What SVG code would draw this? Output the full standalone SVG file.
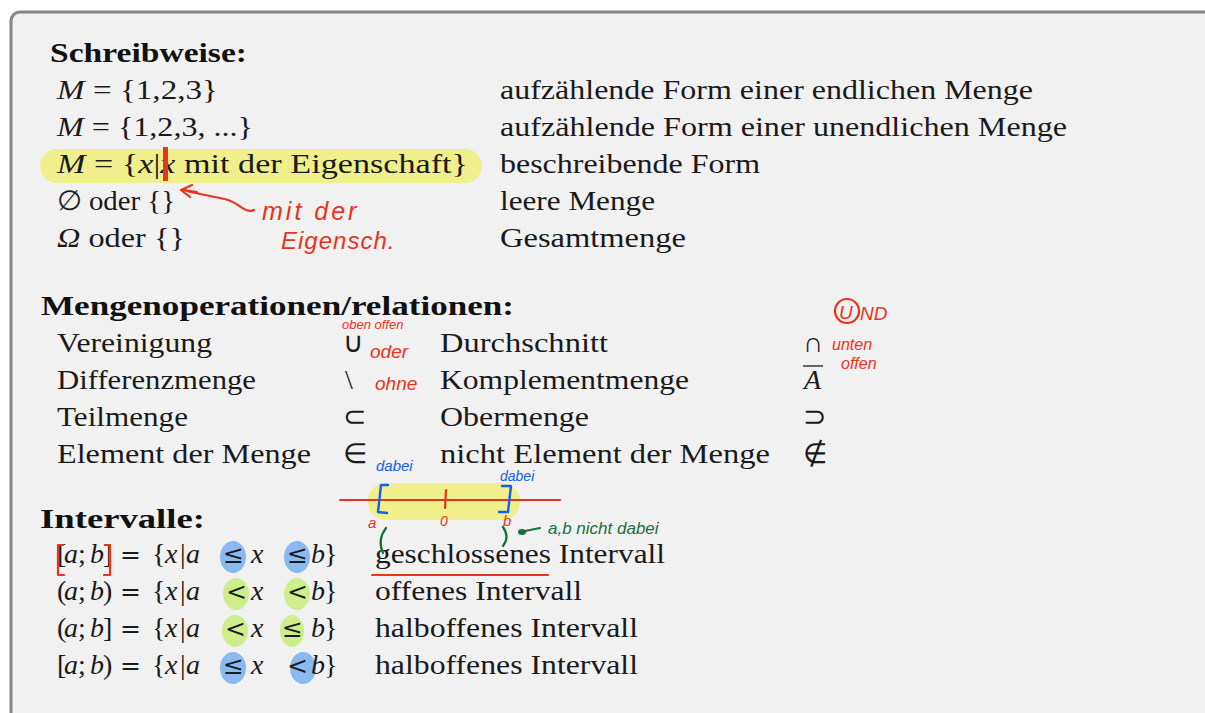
<svg xmlns="http://www.w3.org/2000/svg" width="1205" height="713" viewBox="0 0 1205 713">
<defs>
<style>
.t{font-family:"Liberation Serif","Times New Roman",serif;font-size:28px;fill:#1a1a1a}
.h{font-family:"Liberation Serif","Times New Roman",serif;font-size:28px;font-weight:bold;fill:#111}
.m{font-family:"DejaVu Serif","Liberation Serif",serif;font-size:25px;font-style:normal}
.i{font-style:italic}
.hw{font-family:"Liberation Sans","DejaVu Sans",sans-serif;font-style:italic}
.red{fill:#e8341c}
.blue{fill:#1560e8}
.green{fill:#16723a}
.rs{stroke:#e8341c;fill:none;stroke-width:2.2;stroke-linecap:round;stroke-linejoin:round}
.bs{stroke:#1560e8;fill:none;stroke-width:2.4;stroke-linecap:round;stroke-linejoin:round}
.gs{stroke:#16723a;fill:none;stroke-width:2.2;stroke-linecap:round;stroke-linejoin:round}
.yl{fill:#eef07a;opacity:0.85}
.bc{fill:#8ab8f0}
.gc{fill:#cdee8a}
</style>
</defs>
<rect x="11" y="12" width="1224" height="730" rx="9" fill="#f1f1f1" stroke="#858585" stroke-width="3"/>

<g id="highlights">
<rect class="yl" x="40" y="149" width="442" height="34" rx="17"/>
<rect class="yl" x="368" y="483" width="152" height="37" rx="18"/>
<ellipse class="bc" cx="233" cy="557" rx="13" ry="16"/>
<ellipse class="bc" cx="297" cy="557" rx="13" ry="16"/>
<ellipse class="gc" cx="236" cy="594" rx="13" ry="16"/>
<ellipse class="gc" cx="297" cy="594" rx="13" ry="16"/>
<ellipse class="gc" cx="235" cy="631" rx="13" ry="16"/>
<ellipse class="gc" cx="292" cy="631" rx="12" ry="16"/>
<ellipse class="bc" cx="233" cy="668" rx="13" ry="16"/>
<ellipse class="bc" cx="303" cy="668" rx="13" ry="16"/>
</g>

<g id="schreibweise">
<text class="h" x="50" y="62" textLength="197" lengthAdjust="spacingAndGlyphs">Schreibweise:</text>
<text class="t" x="57" y="99" textLength="161" lengthAdjust="spacingAndGlyphs"><tspan class="i">M</tspan> = {1,2,3}</text>
<text class="t" x="57" y="136" textLength="196" lengthAdjust="spacingAndGlyphs"><tspan class="i">M</tspan> = {1,2,3, ...}</text>
<text class="t" x="57" y="173" textLength="411" lengthAdjust="spacingAndGlyphs"><tspan class="i">M</tspan> = {<tspan class="i">x</tspan>|<tspan class="i">x</tspan> mit der Eigenschaft}</text>
<text class="t" x="57" y="210" textLength="118" lengthAdjust="spacingAndGlyphs">∅ oder {}</text>
<text class="t" x="57" y="247" textLength="128" lengthAdjust="spacingAndGlyphs"><tspan class="i">Ω</tspan> oder {}</text>
<text class="t" x="500" y="99" textLength="533" lengthAdjust="spacingAndGlyphs">aufzählende Form einer endlichen Menge</text>
<text class="t" x="500" y="136" textLength="567" lengthAdjust="spacingAndGlyphs">aufzählende Form einer unendlichen Menge</text>
<text class="t" x="500" y="173" textLength="260" lengthAdjust="spacingAndGlyphs">beschreibende Form</text>
<text class="t" x="500" y="210" textLength="155" lengthAdjust="spacingAndGlyphs">leere Menge</text>
<text class="t" x="500" y="247" textLength="186" lengthAdjust="spacingAndGlyphs">Gesamtmenge</text>
</g>

<g id="mengenoperationen">
<text class="h" x="41" y="315" textLength="473" lengthAdjust="spacingAndGlyphs">Mengenoperationen/relationen:</text>
<text class="t" x="57" y="352" textLength="155" lengthAdjust="spacingAndGlyphs">Vereinigung</text>
<text class="t" x="57" y="389" textLength="199" lengthAdjust="spacingAndGlyphs">Differenzmenge</text>
<text class="t" x="57" y="426" textLength="131" lengthAdjust="spacingAndGlyphs">Teilmenge</text>
<text class="t" x="57" y="463" textLength="254" lengthAdjust="spacingAndGlyphs">Element der Menge</text>
<text class="t" x="343" y="352">∪</text>
<text class="t" x="345" y="389">\</text>
<text class="t" x="343" y="426">⊂</text>
<text class="t" x="343" y="463">∈</text>
<text class="t" x="440" y="352" textLength="168" lengthAdjust="spacingAndGlyphs">Durchschnitt</text>
<text class="t" x="440" y="389" textLength="249" lengthAdjust="spacingAndGlyphs">Komplementmenge</text>
<text class="t" x="440" y="426" textLength="149" lengthAdjust="spacingAndGlyphs">Obermenge</text>
<text class="t" x="440" y="463" textLength="330" lengthAdjust="spacingAndGlyphs">nicht Element der Menge</text>
<text class="t" x="803" y="352">∩</text>
<text class="t i" x="804" y="389">A</text>
<line x1="803" y1="366" x2="823" y2="366" stroke="#1a1a1a" stroke-width="1.3"/>
<text class="t" x="803" y="426">⊃</text>
<text class="t" x="803" y="463">∉</text>
</g>

<g id="intervalle">
<text class="h" x="40" y="528" textLength="165" lengthAdjust="spacingAndGlyphs">Intervalle:</text>
<text class="t" y="563"><tspan x="57">[</tspan><tspan x="64" class="i">a</tspan><tspan x="78">;</tspan><tspan x="90" class="i">b</tspan><tspan x="103">]</tspan><tspan x="120" class="m">=</tspan><tspan x="152">{</tspan><tspan x="165" class="i">x</tspan><tspan x="180">|</tspan><tspan x="186" class="i">a</tspan><tspan x="223" class="m">≤</tspan><tspan x="251" class="i">x</tspan><tspan x="287" class="m">≤</tspan><tspan x="311" class="i">b</tspan><tspan x="324">}</tspan></text>
<text class="t" y="600"><tspan x="57">(</tspan><tspan x="64" class="i">a</tspan><tspan x="78">;</tspan><tspan x="90" class="i">b</tspan><tspan x="103">)</tspan><tspan x="120" class="m">=</tspan><tspan x="152">{</tspan><tspan x="165" class="i">x</tspan><tspan x="180">|</tspan><tspan x="186" class="i">a</tspan><tspan x="226" class="m">&lt;</tspan><tspan x="251" class="i">x</tspan><tspan x="287" class="m">&lt;</tspan><tspan x="311" class="i">b</tspan><tspan x="324">}</tspan></text>
<text class="t" y="637"><tspan x="57">(</tspan><tspan x="64" class="i">a</tspan><tspan x="78">;</tspan><tspan x="90" class="i">b</tspan><tspan x="103">]</tspan><tspan x="120" class="m">=</tspan><tspan x="152">{</tspan><tspan x="165" class="i">x</tspan><tspan x="180">|</tspan><tspan x="186" class="i">a</tspan><tspan x="225" class="m">&lt;</tspan><tspan x="251" class="i">x</tspan><tspan x="282" class="m">≤</tspan><tspan x="311" class="i">b</tspan><tspan x="324">}</tspan></text>
<text class="t" y="674"><tspan x="57">[</tspan><tspan x="64" class="i">a</tspan><tspan x="78">;</tspan><tspan x="90" class="i">b</tspan><tspan x="103">)</tspan><tspan x="120" class="m">=</tspan><tspan x="152">{</tspan><tspan x="165" class="i">x</tspan><tspan x="180">|</tspan><tspan x="186" class="i">a</tspan><tspan x="223" class="m">≤</tspan><tspan x="251" class="i">x</tspan><tspan x="287" class="m">&lt;</tspan><tspan x="311" class="i">b</tspan><tspan x="324">}</tspan></text>
<text class="t" x="375" y="563" textLength="290" lengthAdjust="spacingAndGlyphs">geschlossenes Intervall</text>
<text class="t" x="375" y="600" textLength="207" lengthAdjust="spacingAndGlyphs">offenes Intervall</text>
<text class="t" x="375" y="637" textLength="263" lengthAdjust="spacingAndGlyphs">halboffenes Intervall</text>
<text class="t" x="375" y="674" textLength="263" lengthAdjust="spacingAndGlyphs">halboffenes Intervall</text>
</g>

<g id="annotations">
<rect x="163" y="147" width="5" height="34" fill="#e8341c"/>
<path class="rs" d="M254,210 C246,214 240,204 228,200 C214,196 200,195 184,190"/>
<path class="rs" d="M192,185 L181,190 L190,197 M184,190 L197,192"/>
<text class="hw red" x="262" y="220" font-size="25" letter-spacing="3">mit der</text>
<text class="hw red" x="281" y="249" font-size="24" letter-spacing="1">Eigensch.</text>
<text class="hw red" x="342" y="329" font-size="13">oben offen</text>
<text class="hw red" x="370" y="358" font-size="19">oder</text>
<text class="hw red" x="375" y="390" font-size="19">ohne</text>
<circle cx="847" cy="311" r="12" class="rs"/>
<text class="hw red" x="839" y="319" font-size="19">U</text>
<text class="hw red" x="860" y="320" font-size="19">ND</text>
<text class="hw red" x="832" y="350" font-size="16">unten</text>
<text class="hw red" x="841" y="369" font-size="16">offen</text>
<text class="hw blue" x="376" y="471" font-size="15">dabei</text>
<text class="hw blue" x="500" y="481" font-size="14">dabei</text>
<path class="rs" d="M63,545 L58,545 L58,575 L64,575 M105,545 L110,545 L110,575 L104,575"/>
<line class="rs" x1="372" y1="575" x2="548" y2="575" stroke-width="2.6"/>
</g>

<g id="connectors">
<line x1="340" y1="500" x2="560" y2="500" class="rs"/>
<path class="bs" d="M388,485 L381,485 L378,512 L387,513"/>
<path class="bs" d="M502,486 L511,486 L508,512 L499,512"/>
<path class="rs" d="M446,490 L445,508"/>
<text class="hw red" x="368" y="528" font-size="15">a</text>
<text class="hw red" x="440" y="526" font-size="14">0</text>
<text class="hw red" x="503" y="526" font-size="15">b</text>
<path class="gs" d="M386,528 Q377,540 383,553"/>
<path class="gs" d="M503,527 Q510,537 503,546"/>
<path class="gs" d="M520,532 L540,528"/>
<ellipse cx="522" cy="532" rx="4" ry="3" fill="#16723a"/>
<text class="hw green" x="548" y="534" font-size="17">a,b nicht dabei</text>
</g>
</svg>
